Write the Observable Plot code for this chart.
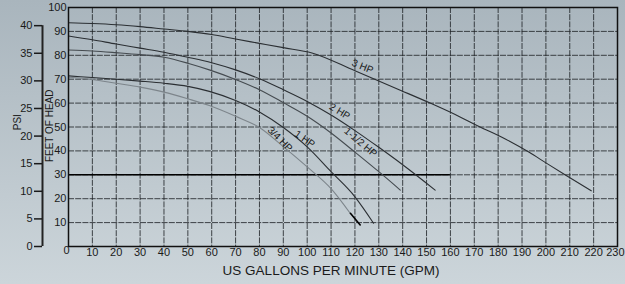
<!DOCTYPE html>
<html><head><meta charset="utf-8">
<script src="https://cdn.jsdelivr.net/npm/d3@7"></script>
<script src="https://cdn.jsdelivr.net/npm/@observablehq/plot@0.6"></script>
<style>
html,body{margin:0;padding:0;}
body{width:625px;height:284px;background:linear-gradient(#a9b5bd,#ccd5da);overflow:hidden;font-family:"Liberation Sans",Arial,sans-serif;}
</style></head><body><div id="chart"></div>
<script>
// Tick values
const xTicks = [10,20,30,40,50,60,70,80,90,100,110,120,130,140,150,160,170,180,190,200,210,220];
const xLastTick = [230];
const yTicks = [10,20,30,40,50,60,70,80,90,100];
const psiTicks = [0,5,10,15,20,25,30,35,40];
const FT_PER_PSI = 2.31;

// Pump curves: [GPM, feet of head]
const hp3 = [[0,93.6],[10,93.3],[20,92.8],[30,92.0],[40,91.0],[50,90.0],[60,88.7],[70,86.8],[80,85.0],[90,83.2],[102,81.0],[120,73.5],[139,65.4],[151.5,60.0],[162,55.2],[172,50.2],[183,45.0],[193,39.4],[200,35.0],[208,30.0],[219,23.3]];
const hp2 = [[0,88.1],[10,86.5],[20,84.7],[30,83.0],[40,81.3],[50,79.2],[60,76.9],[70,73.9],[80,70.2],[90,65.6],[100,60.7],[110,55.0],[120,48.5],[130,41.5],[140,34.2],[153.6,23.6]];
const hp15 = [[0,82.2],[10,81.8],[20,81.1],[30,80.3],[40,79.2],[50,76.7],[59,73.9],[70,69.9],[80,65.6],[90,60.2],[100,54.5],[110,47.5],[120,39.5],[130,31.3],[139,23.6]];
const hp1 = [[0,71.4],[10,70.7],[20,70.0],[30,69.2],[40,68.3],[50,67.0],[59,64.9],[70,61.1],[80,56.3],[90,49.8],[100,41.7],[110,31.3],[120,20.8],[127.8,9.75]];
const hp075 = [[0,70.8],[10,69.9],[20,68.3],[30,66.7],[40,64.6],[50,61.8],[59,59.0],[70,54.5],[80,49.8],[90,41.8],[100,33.3],[110,24.2],[118,13.9]];
const hp075End = [[118.1,13.9],[122.2,9.0]];

// Curve labels: name, GPM, feet, angle
const labelNames = ["3 HP","2 HP","1-1/2 HP","1 HP","3/4 HP"];
const labelX = [123.2,113.6,122.4,99.0,88.6];
const labelY = [75.3,56.5,43.6,44.9,44.9];
const labelAngle = [22,31,40,35,45];

// Axis titles
const psiTitle = "PSI";
const feetTitle = "FEET OF HEAD";
const xTitle = "US GALLONS PER MINUTE (GPM)";

const curves = [
  {name:"3 HP", pts: hp3, color:"#2b2f33"},
  {name:"2 HP", pts: hp2, color:"#2b2f33"},
  {name:"1-1/2 HP", pts: hp15, color:"#454b50"},
  {name:"1 HP", pts: hp1, color:"#2b2f33"},
  {name:"3/4 HP", pts: hp075, color:"#7d858b"}
];
const labels = labelNames.map((t,i)=>({text:t, x:labelX[i], y:labelY[i], a:labelAngle[i]}));

const gridStyle = {stroke:"#1e2226", strokeOpacity:0.82, strokeWidth:1, strokeDasharray:"6,1.2"};

const chart = Plot.plot({
  width: 625, height: 284,
  marginLeft: 68, marginRight: 8, marginTop: 7, marginBottom: 38,
  style: {background:"transparent", fontFamily:"'Liberation Sans', Arial, sans-serif", fontSize:"11px", color:"#1a1a1a", overflow:"visible"},
  x: {domain:[0,230]},
  y: {domain:[0,100]},
  marks: [
    Plot.gridX(xTicks, gridStyle),
    Plot.gridY(yTicks, gridStyle),
    Plot.ruleY([30], {x1:0, x2:160, stroke:"#000", strokeWidth:1.6}),
    ...curves.map(c => Plot.line(c.pts, {x:d=>d[0], y:d=>d[1], stroke:c.color, strokeWidth:1.1, curve:"monotone-x"})),
    Plot.line(hp075End, {x:d=>d[0], y:d=>d[1], stroke:"#000", strokeWidth:1.6}),
    Plot.text(labels, {x:"x", y:"y", text:"text", rotate:"a", fontSize:10, fill:"#1a1a1a"}),
    Plot.frame({stroke:"#111", strokeWidth:1.5}),
    Plot.axisX(xTicks, {tickSize:0, tickPadding:1.5, label:null, fontSize:11}),
    Plot.text(xLastTick, {x:d=>d, y:0, lineAnchor:"top", textAnchor:"end", dx:7, dy:1.5, fontSize:11}),
    Plot.axisY(yTicks, {tickSize:0, tickPadding:2, label:null, fontSize:11}),
    Plot.text(["0"], {frameAnchor:"bottom-left", dx:-5, dy:7, fontSize:11}),
    Plot.ruleX([0], {y1:0, y2:40*FT_PER_PSI, dx:-26, stroke:"#222", strokeWidth:2}),
    Plot.axisY(psiTicks.map(p=>p*FT_PER_PSI), {anchor:"left", dx:-26, tickSize:8, tickPadding:2, strokeWidth:1.5, label:null, fontSize:11, tickFormat:d=>String(Math.round(d/FT_PER_PSI))}),
    Plot.text([psiTitle], {x:0, y:52, dx:-51, rotate:-90, fontSize:10}),
    Plot.text([feetTitle], {x:0, y:50.5, dx:-19, rotate:-90, fontSize:10}),
    Plot.text([xTitle], {frameAnchor:"bottom", dx:-12, dy:28, fontSize:13.5})
  ]
});
document.getElementById("chart").appendChild(chart);
</script></body></html>
